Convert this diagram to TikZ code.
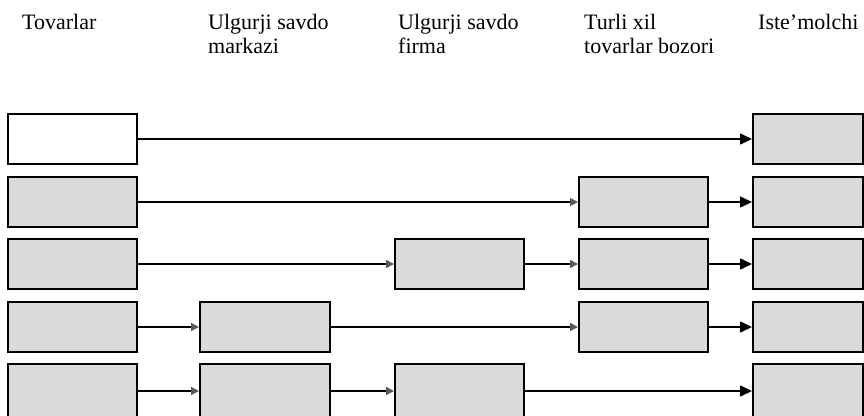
\documentclass[tikz,border=0pt]{standalone}
\usepackage{fontspec}
\setmainfont{Liberation Serif}
\usetikzlibrary{arrows.meta}
\definecolor{boxgray}{RGB}{218,218,218}
\tikzset{
  box/.style={draw=black, line width=2pt, fill=boxgray, minimum width=129pt, minimum height=50pt, inner sep=0pt},
  whitebox/.style={box, fill=white},
  endbox/.style={box, minimum width=110pt},
  hdr/.style={anchor=north west, inner sep=0pt, align=left, font=\fontsize{22}{24}\selectfont},
  conn/.style={line width=1.5pt, -{Triangle[length=8pt,width=8pt,fill=black!65,color=black!65]}},
  connbig/.style={line width=1.5pt, -{Triangle[length=12pt,width=11pt]}},
}
\begin{document}
\begin{tikzpicture}[x=1pt,y=-1pt]
\useasboundingbox (0,0) rectangle (864,415);
% headers
\node[hdr] (h1) at (22,14) {Tovarlar};
\node[hdr] (h2) at (208,14) {Ulgurji savdo\\markazi};
\node[hdr] (h3) at (398,14) {Ulgurji savdo\\firma};
\node[hdr] (h4) at (584,14) {Turli xil\\tovarlar bozori};
\node[hdr] (h5) at (758,14) {Iste’molchi};
% row 1
\node[whitebox] (a1) at (72.5,139) {};
\node[endbox] (e1) at (808,139) {};
% row 2
\node[box] (a2) at (72.5,202) {};
\node[box] (d2) at (643.5,202) {};
\node[endbox] (e2) at (808,202) {};
% row 3
\node[box] (a3) at (72.5,264) {};
\node[box] (c3) at (459.5,264) {};
\node[box] (d3) at (643.5,264) {};
\node[endbox] (e3) at (808,264) {};
% row 4
\node[box] (a4) at (72.5,327) {};
\node[box, minimum width=130pt] (b4) at (265,327) {};
\node[box] (d4) at (643.5,327) {};
\node[endbox] (e4) at (808,327) {};
% row 5
\node[box, minimum height=54pt] (a5) at (72.5,391) {};
\node[box, minimum height=54pt, minimum width=130pt] (b5) at (265,391) {};
\node[box, minimum height=54pt] (c5) at (459.5,391) {};
\node[endbox, minimum height=54pt] (e5) at (808,391) {};
% connectors
\draw[connbig] (a1) -- (e1);
\draw[conn] (a2) -- (d2);
\draw[connbig] (d2) -- (e2);
\draw[conn] (a3) -- (c3);
\draw[conn] (c3) -- (d3);
\draw[connbig] (d3) -- (e3);
\draw[conn] (a4) -- (b4);
\draw[conn] (b4) -- (d4);
\draw[connbig] (d4) -- (e4);
\draw[conn] (a5) -- (b5);
\draw[conn] (b5) -- (c5);
\draw[connbig] (c5) -- (e5);
\end{tikzpicture}
\end{document}
